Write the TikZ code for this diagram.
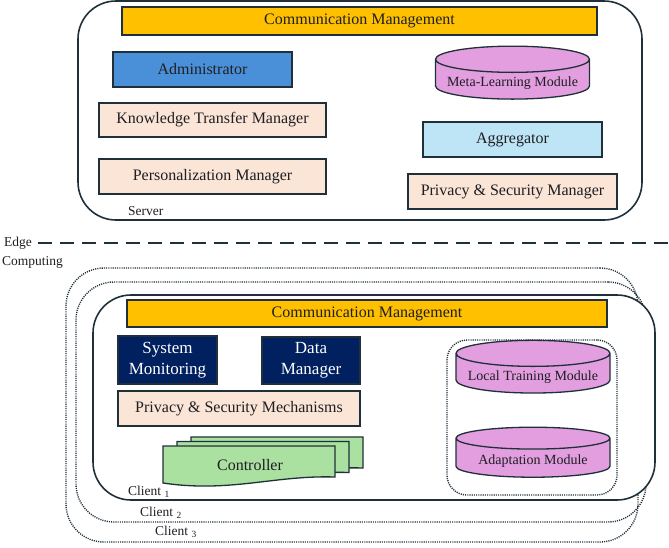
\documentclass[tikz,border=0pt]{standalone}
\usepackage{fontspec}
\setmainfont{Liberation Serif}
\usetikzlibrary{shapes.geometric}
\definecolor{inkdark}{RGB}{30,30,35}
\definecolor{linedark}{RGB}{32,48,58}
\definecolor{commorange}{RGB}{255,192,0}
\definecolor{adminblue}{RGB}{74,144,217}
\definecolor{peach}{RGB}{251,229,214}
\definecolor{skyblue}{RGB}{190,229,245}
\definecolor{modviolet}{RGB}{226,158,222}
\definecolor{navy}{RGB}{0,32,96}
\definecolor{ctrlgreen}{RGB}{170,224,160}
\begin{document}
\begin{tikzpicture}[x=1pt,y=-1pt,
  every node/.style={font=\fontsize{16}{18}\selectfont,text=inkdark,inner sep=0pt},
  box/.style={draw=linedark,line width=1.3pt,minimum height=35pt},
  tier/.style={draw=linedark,line width=1.6pt,rounded corners=38pt},
  dots/.style={draw=linedark,line width=1.4pt,dash pattern=on 1.1pt off 1.1pt,rounded corners=38pt},
  module/.style={cylinder,shape border rotate=90,aspect=0.2,draw=linedark,line width=1.3pt,
    fill=modviolet,minimum width=154pt,text height=13pt,text depth=0pt,font=\fontsize{14}{16}\selectfont},
  tag/.style={font=\fontsize{13.5}{15}\selectfont,anchor=west}]
\useasboundingbox (0,0) rectangle (669,547);
% server side
\node[tier,minimum width=564pt,minimum height=219pt] (server) at (360,110.5) {};
\node[box,fill=commorange,minimum width=475pt,minimum height=28pt] (comma) at (359.5,21) {Communication Management};
\node[box,fill=adminblue,minimum width=179pt] (admin) at (202.5,69.5) {Administrator};
\node[box,fill=peach,minimum width=227pt,minimum height=34pt] (ktm) at (212.5,120) {Knowledge Transfer Manager};
\node[box,fill=peach,minimum width=227pt] (perso) at (212.5,176.5) {Personalization Manager};
\node[module,minimum height=47pt] (meta) at (512.5,79.5) {Meta-Learning Module};
\node[box,fill=skyblue,minimum width=179pt] (aggr) at (512.5,139.5) {Aggregator};
\node[box,fill=peach,minimum width=209pt] (psm) at (512.5,191.5) {Privacy \& Security Manager};
\node[tag] (srvlbl) at (128,211) {Server};
% edge line
\node[tag] (edge) at (4,243) {Edge};
\node[tag] (comp) at (2,262) {Computing};
\coordinate (edgeend) at (669,243);
\draw[linedark,line width=2.2pt,dash pattern=on 14pt off 8pt,shorten <=6pt] (edge.east |- edgeend) -- (edgeend);
% client side
\node[dots,minimum width=572pt,minimum height=274pt] (client3) at (352,405) {};
\node[dots,minimum width=570pt,minimum height=240pt] (client2) at (361,402) {};
\node[tier,fill=white,minimum width=562pt,minimum height=205pt] (client1) at (374,397.5) {};
\node[box,fill=commorange,minimum width=480pt,minimum height=27pt] (commb) at (367,313.5) {Communication Management};
\node[box,fill=navy,text=white,align=center,minimum width=99pt,minimum height=48pt,font=\fontsize{17}{21}\selectfont] (sysmon) at (167.5,360) {System\\Monitoring};
\node[box,fill=navy,text=white,align=center,minimum width=98pt,minimum height=47pt,font=\fontsize{17}{21}\selectfont] (datam) at (311,360.5) {Data\\Manager};
\node[box,fill=peach,minimum width=242pt] (psmech) at (239,408.5) {Privacy \& Security Mechanisms};
\foreach \d in {2,1,0}
  \draw[draw=linedark,line width=1.3pt,fill=ctrlgreen,shift={(14*\d,-4.5*\d)}]
    (163,446) -- (335,446) -- (335,477) .. controls (275,475) and (230,493) .. (163,483) -- cycle;
\node (ctrl) at (250,465) {Controller};
\node[dots,rounded corners=20pt,minimum width=170pt,minimum height=155pt] (modules) at (532,417.5) {};
\node[module,minimum height=49pt] (ltm) at (533,373.5) {Local Training Module};
\node[module,minimum height=50pt] (adapt) at (533,458) {Adaptation Module};
\node[tag] (c1lbl) at (128,492) {Client \textsubscript{1}};
\node[tag] (c2lbl) at (140,513) {Client \textsubscript{2}};
\node[tag] (c3lbl) at (155,532) {Client \textsubscript{3}};
\end{tikzpicture}
\end{document}
